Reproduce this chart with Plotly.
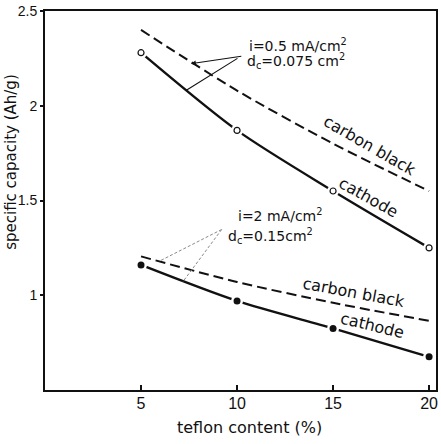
import plotly.graph_objects as go

# teflon content (%) and specific capacity (Ah/g)
teflon = [5, 10, 15, 20]

# i = 0.5 mA/cm2, dc = 0.075 cm2
cathode_low_i = [2.28, 1.87, 1.55, 1.25]
carbon_low_i = [2.40, 2.08, 1.80, 1.55]

# i = 2 mA/cm2, dc = 0.15 cm2
cathode_high_i = [1.16, 0.97, 0.825, 0.675]
carbon_high_i = [1.205, 1.07, 0.96, 0.865]

x_ticks = [5, 10, 15, 20]
y_ticks = [1, 1.5, 2, 2.5]
y_tick_text = ["1", "1.5", "2", "2.5"]

FONT = "DejaVu Sans"
TICK_FONT = "Liberation Sans"
INK = "#111111"

fig = go.Figure()

# dashed carbon black curves
for ys in (carbon_low_i, carbon_high_i):
    fig.add_trace(go.Scatter(
        x=teflon, y=ys, mode="lines",
        line=dict(color=INK, width=2, dash="10px,5px", shape="spline", smoothing=0.8),
        hoverinfo="skip", showlegend=False))

# solid cathode curves
for ys in (cathode_low_i, cathode_high_i):
    fig.add_trace(go.Scatter(
        x=teflon, y=ys, mode="lines",
        line=dict(color=INK, width=2.4, shape="spline", smoothing=0.8),
        hoverinfo="skip", showlegend=False))

# white halo so the curve breaks around each measured point
for ys in (cathode_low_i, cathode_high_i):
    fig.add_trace(go.Scatter(
        x=teflon, y=ys, mode="markers",
        marker=dict(size=12, color="white", line=dict(width=0)),
        hoverinfo="skip", showlegend=False))

# measured points: open circles (0.5 mA/cm2), filled dots (2 mA/cm2)
fig.add_trace(go.Scatter(
    x=teflon, y=cathode_low_i, mode="markers",
    marker=dict(size=6, color="white", line=dict(color=INK, width=1.2)),
    showlegend=False))
fig.add_trace(go.Scatter(
    x=teflon, y=cathode_high_i, mode="markers",
    marker=dict(size=7, color=INK, line=dict(width=0)),
    showlegend=False))

annotations = []
shapes = []

def note(x, y, text, size=15, angle=0, xanchor="center"):
    annotations.append(dict(
        x=x, y=y, xref="x", yref="y", text=text, showarrow=False,
        textangle=angle, xanchor=xanchor, yanchor="middle",
        font=dict(family=FONT, size=size, color=INK)))

def leader(x0, y0, x1, y1, head=0):
    annotations.append(dict(
        x=x1, y=y1, ax=x0, ay=y0, xref="x", yref="y", axref="x", ayref="y",
        text="", showarrow=True, arrowhead=head, arrowsize=0.9,
        arrowwidth=1.1, arrowcolor=INK))

def dotted_leader(x0, y0, x1, y1):
    shapes.append(dict(
        type="line", xref="x", yref="y", x0=x0, y0=y0, x1=x1, y1=y1,
        line=dict(color="#8a8a8a", width=1, dash="3px,2px")))

# condition labels
note(10.5, 2.318, "i=0.5 mA/cm<sup>2</sup>", size=14, xanchor="left")
note(10.4, 2.237, "d<sub>c</sub>=0.075 cm<sup>2</sup>", size=14, xanchor="left")
note(9.95, 1.425, "i=2 mA/cm<sup>2</sup>", size=14, xanchor="left")
note(9.4, 1.315, "d<sub>c</sub>=0.15cm<sup>2</sup>", size=14, xanchor="left")

# leader lines
leader(10.3, 2.262, 7.6, 2.222, head=2)
leader(10.1, 2.255, 7.34, 2.08)
dotted_leader(9.2, 1.347, 5.96, 1.18)
dotted_leader(9.2, 1.347, 7.17, 1.07)

# curve labels
note(16.9, 1.79, "carbon black", size=16, angle=30)
note(16.85, 1.515, "cathode", size=16, angle=29)
note(16.1, 1.012, "carbon black", size=16, angle=10.5)
note(17.05, 0.842, "cathode", size=16, angle=13.5)

# axis titles
annotations.append(dict(
    x=-0.086, y=0.603, xref="paper", yref="paper", text="specific capacity (Ah/g)",
    showarrow=False, textangle=-90, xanchor="center", yanchor="middle",
    font=dict(family=FONT, size=15, color=INK)))
annotations.append(dict(
    x=0.523, y=-0.1, xref="paper", yref="paper", text="teflon content (%)",
    showarrow=False, xanchor="center", yanchor="middle",
    font=dict(family=FONT, size=16, color=INK)))

fig.update_layout(
    width=441, height=444,
    margin=dict(l=45, r=3, t=10, b=54),
    paper_bgcolor="white", plot_bgcolor="white",
    font=dict(family=FONT, size=15, color=INK),
    annotations=annotations,
    shapes=shapes,
    showlegend=False,
)
fig.update_xaxes(
    range=[0, 20.36], tickvals=x_ticks, ticks="inside", ticklen=5, tickwidth=1.5,
    tickcolor=INK, showline=True, linecolor=INK, linewidth=2, mirror=True,
    showgrid=False, zeroline=False, ticklabelstandoff=-2,
    tickfont=dict(family=TICK_FONT, size=16, color=INK))
fig.update_yaxes(
    range=[0.5, 2.5], tickvals=y_ticks, ticktext=y_tick_text, ticks="outside",
    ticklen=3, tickwidth=1.5, tickcolor=INK, showline=True, linecolor=INK,
    linewidth=2, mirror=True, showgrid=False, zeroline=False, ticklabelstandoff=0,
    tickfont=dict(family=TICK_FONT, size=14, color=INK))

fig.write_html("out.html")
